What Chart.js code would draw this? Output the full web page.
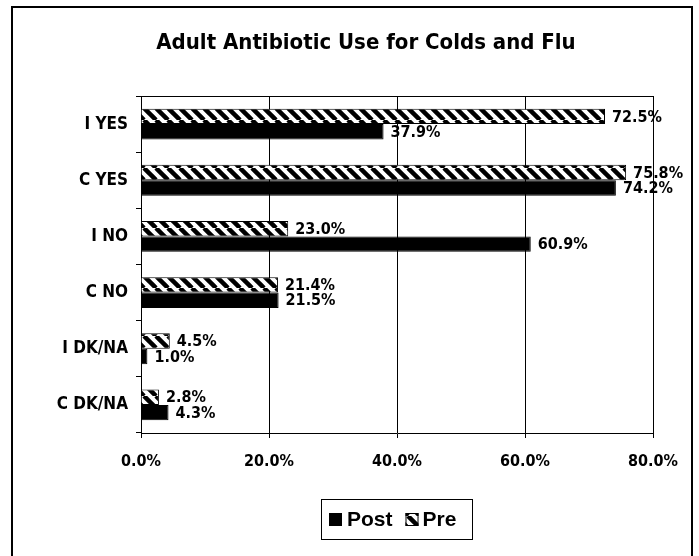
<!DOCTYPE html>
<html>
<head>
<meta charset="utf-8">
<script src="https://cdn.jsdelivr.net/npm/chart.js@4.4.0/dist/chart.umd.min.js"></script>
<style>
  html, body { margin: 0; padding: 0; background: #fff; }
  canvas { display: block; }
</style>
</head>
<body>
<canvas id="chart" width="699" height="556"></canvas>
<script>
  const title = "Adult Antibiotic Use for Colds and Flu";
  const categories = ["I YES", "C YES", "I NO", "C NO", "I DK/NA", "C DK/NA"];
  const preValues = [72.5, 75.8, 23.0, 21.4, 4.5, 2.8];
  const postValues = [37.9, 74.2, 60.9, 21.5, 1.0, 4.3];
  const xTicks = [0, 20, 40, 60, 80];

  const condFamily = "'DejaVu Sans Condensed', 'Liberation Sans Narrow', 'DejaVu Sans', sans-serif";

  // ===== HATCH PATTERN =====
  function makeHatch() {
    const p = 12;
    const c = document.createElement("canvas");
    c.width = p; c.height = p;
    const g = c.getContext("2d");
    g.fillStyle = "#fff";
    g.fillRect(0, 0, p, p);
    g.strokeStyle = "#000";
    g.lineWidth = 4.5;
    [-p, 0, p].forEach(k => {
      g.beginPath();
      g.moveTo(k, 0);
      g.lineTo(k + p, p);
      g.stroke();
    });
    return g.createPattern(c, "repeat");
  }
  const hatch = makeHatch();

  // ===== EXTRAS: frame, title, value labels, legend =====
  const extras = {
    id: "extras",
    afterDraw(chart) {
      const ctx = chart.ctx;
      ctx.save();

      // outer frame
      ctx.strokeStyle = "#000";
      ctx.lineWidth = 2;
      ctx.strokeRect(12, 7, 680, 560);

      // title
      ctx.fillStyle = "#000";
      ctx.font = "bold 22px " + condFamily;
      ctx.textAlign = "center";
      ctx.textBaseline = "middle";
      ctx.fillText(title, 366, 43);

      // value labels
      ctx.font = "bold 16px " + condFamily;
      ctx.textAlign = "left";
      chart.data.datasets.forEach((ds, i) => {
        chart.getDatasetMeta(i).data.forEach((bar, j) => {
          ctx.fillText(ds.data[j].toFixed(1) + "%", bar.x + 7, bar.y + 1);
        });
      });

      // legend box
      const lx = 321, ly = 499, lw = 151, lh = 40;
      ctx.lineWidth = 1;
      ctx.strokeRect(lx + 0.5, ly + 0.5, lw, lh);
      ctx.font = "bold 21px 'Liberation Sans', Arial, sans-serif";
      ctx.textBaseline = "middle";
      const cy = ly + lh / 2 + 1;
      ctx.fillStyle = "#000";
      ctx.fillRect(lx + 8, cy - 7, 13, 13);
      ctx.fillText("Post", lx + 26, cy);
      const px = lx + 26 + ctx.measureText("Post").width + 13;
      ctx.fillStyle = hatch;
      ctx.fillRect(px, cy - 7, 13, 13);
      ctx.strokeStyle = "#000";
      ctx.strokeRect(px + 0.5, cy - 6.5, 12, 12);
      ctx.fillStyle = "#000";
      ctx.fillText("Pre", px + 17, cy);

      ctx.restore();
    }
  };

  new Chart(document.getElementById("chart"), {
    type: "bar",
    data: {
      labels: categories,
      datasets: [
        { label: "Pre", data: preValues, backgroundColor: hatch, borderColor: "#000", borderWidth: 1 },
        { label: "Post", data: postValues, backgroundColor: "#000", borderColor: "#000", borderWidth: 1 }
      ]
    },
    options: {
      indexAxis: "y",
      responsive: false,
      animation: false,
      devicePixelRatio: 1,
      categoryPercentage: 0.55,
      barPercentage: 1.0,
      layout: { padding: { left: 0, top: 96, right: 46, bottom: 83 } },
      plugins: {
        legend: { display: false },
        title: { display: false },
        tooltip: { enabled: false }
      },
      scales: {
        x: {
          min: 0,
          max: 80,
          afterFit: s => { s.height = 40; },
          afterBuildTicks: s => { s.ticks = xTicks.map(v => ({ value: v })); },
          ticks: {
            color: "#000",
            font: { family: condFamily, size: 16, weight: "bold" },
            padding: 14,
            maxRotation: 0,
            callback: v => v.toFixed(1) + "%"
          },
          grid: { color: "#000", tickColor: "#000", tickLength: 5, lineWidth: 1 },
          border: { color: "#000", width: 1 }
        },
        y: {
          afterFit: s => { s.width = 141; },
          ticks: {
            color: "#000",
            font: { family: condFamily, size: 17, weight: "bold" },
            padding: 8
          },
          grid: {
            offset: true,
            tickLength: 5,
            tickColor: "#000",
            color: c => (c.index === 0 ? "#000" : "rgba(0,0,0,0)")
          },
          border: { color: "#000", width: 1 }
        }
      }
    },
    plugins: [extras]
  });
</script>
</body>
</html>
